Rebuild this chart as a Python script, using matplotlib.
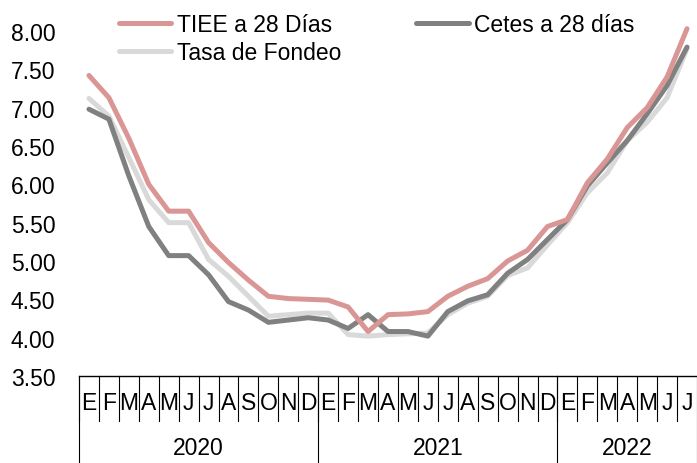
import matplotlib
matplotlib.use("Agg")
import matplotlib.pyplot as plt
from matplotlib.transforms import blended_transform_factory

plt.rcParams['font.family'] = ['Liberation Sans', 'DejaVu Sans']

months = ["E", "F", "M", "A", "M", "J", "J", "A", "S", "O", "N", "D"] * 2 + ["E", "F", "M", "A", "M", "J", "J"]
years = ["2020", "2021", "2022"]
year_counts = [12, 12, 7]

tiee = [7.42, 7.13, 6.60, 6.00, 5.65, 5.65, 5.24, 4.98, 4.75, 4.54, 4.51, 4.50,
        4.49, 4.40, 4.08, 4.30, 4.31, 4.34, 4.54, 4.67, 4.77, 5.00, 5.14, 5.45,
        5.54, 6.02, 6.33, 6.74, 7.00, 7.40, 8.03]
cetes = [6.98, 6.85, 6.11, 5.45, 5.07, 5.07, 4.82, 4.47, 4.36, 4.20, 4.23, 4.26,
         4.23, 4.12, 4.30, 4.08, 4.08, 4.02, 4.34, 4.48, 4.56, 4.84, 5.02, 5.28,
         5.54, 5.98, 6.28, 6.57, 6.92, 7.29, 7.79]
fondeo = [7.12, 6.89, 6.35, 5.80, 5.50, 5.50, 5.02, 4.80, 4.54, 4.28, 4.30, 4.32,
          4.32, 4.04, 4.02, 4.04, 4.05, 4.06, 4.30, 4.45, 4.54, 4.81, 4.91, 5.21,
          5.50, 5.89, 6.15, 6.57, 6.81, 7.13, 7.77]

yticks = [3.5, 4.0, 4.5, 5.0, 5.5, 6.0, 6.5, 7.0, 7.5, 8.0]

fig = plt.figure(figsize=(6.97, 4.64), dpi=100)
ax = fig.add_axes([79 / 697, 1 - 377 / 464, (697 - 79) / 697, (377 - 32) / 464])

x = list(range(len(months)))
lw = 3.6
l_f, = ax.plot(x, fondeo, color="#D9D9D9", lw=lw, solid_capstyle="round", clip_on=False, label="Tasa de Fondeo")
l_c, = ax.plot(x, cetes, color="#808080", lw=lw, solid_capstyle="round", clip_on=False, label="Cetes a 28 días")
l_t, = ax.plot(x, tiee, color="#D99694", lw=lw, solid_capstyle="round", clip_on=False, label="TIEE a 28 Días")

ax.set_xlim(-0.5, len(months) - 0.5)
ax.set_ylim(3.5, 8.0)
ax.set_yticks(yticks)
ax.set_yticklabels([f"{v:.2f}" for v in yticks], fontsize=16.5)
ax.tick_params(axis="y", length=0, pad=17)
ax.set_xticks([])
for s in ["left", "right", "top"]:
    ax.spines[s].set_visible(False)
ax.spines["bottom"].set_linewidth(1.0)
ax.spines["bottom"].set_color("black")

trans = blended_transform_factory(ax.transData, ax.transAxes)
ax_h = 345.0
month_sep = -45 / ax_h
year_sep = -90 / ax_h
for i, m in enumerate(months):
    ax.text(i, -27 / ax_h, m, transform=trans, ha="center", va="center", fontsize=16.5)
    ax.plot([i - 0.5, i - 0.5], [0, month_sep], transform=trans, color="black", lw=0.8, clip_on=False)

start = 0
for y, n in zip(years, year_counts):
    ax.plot([start - 0.5, start - 0.5], [0, year_sep], transform=trans, color="black", lw=0.8, clip_on=False)
    ax.text(start + (n - 1) / 2, -72 / ax_h, y, transform=trans, ha="center", va="center", fontsize=16.5)
    start += n
ax.plot([start - 0.5, start - 0.5], [0, year_sep], transform=trans, color="black", lw=0.8, clip_on=False)

leg = ax.legend(handles=[l_t, l_f, l_c], ncol=2, loc="upper left",
                bbox_to_anchor=(114 / 697, 1 - 9 / 464), bbox_transform=fig.transFigure,
                frameon=False, fontsize=16.5, handlelength=2.3, handletextpad=0.25,
                columnspacing=3.25, labelspacing=0.25, borderpad=0.2, borderaxespad=0)

fig.savefig("out.png", dpi=100)
